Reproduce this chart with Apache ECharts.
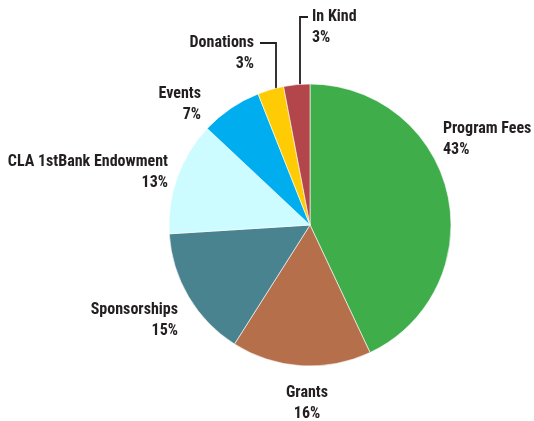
<!DOCTYPE html>
<html><head><meta charset="utf-8">
<script src="https://cdn.jsdelivr.net/npm/echarts@6/dist/echarts.min.js"></script>
<style>html,body{margin:0;padding:0;background:#fff}#c{width:534px;height:421px}</style>
</head><body><div id="c"></div>
<script>
const categories = ['Program Fees','Grants','Sponsorships','CLA 1stBank Endowment','Events','Donations','In Kind'];
const values = [43,16,15,13,7,3,3];
const colors = ['#3fae4a','#b5704b','#4a8390','#ccfcff','#00aeef','#ffcb05','#b3464b'];

// label placement (style only)
const labelPos = [
  {x:443, y:139, align:'left'},
  {x:307, y:403, align:'center'},
  {x:178, y:320, align:'right'},
  {x:168, y:172, align:'right'},
  {x:201, y:104, align:'right'},
  {x:254, y:53, align:'right', line:[[276,104],[276,43],[260,43]]},
  {x:312, y:27, align:'left', line:[[300,96],[300,17],[308,17]]}
];

const chart = echarts.init(document.getElementById('c'), null, {renderer:'canvas'});
chart.setOption({
  animation:false,
  series:[{
    type:'pie',
    center:[310,225],
    radius:141,
    startAngle:90,
    clockwise:true,
    data: categories.map((n,i)=>({name:n, value:values[i], itemStyle:{color:colors[i]}})),
    itemStyle:{borderColor:'#fff', borderWidth:0.6},
    label:{
      show:true,
      overflow:'none',
      width:300,
      formatter: p => p.name + '\n' + Math.round(p.percent) + '%',
      fontFamily:'"Roboto Condensed","DejaVu Sans Condensed",sans-serif',
      fontWeight:'bold',
      fontSize:16,
      lineHeight:21,
      color:'#231f20'
    },
    labelLine:{show:true, lineStyle:{color:'#231f20', width:1.8}, length:10, length2:10},
    labelLayout: function(p){
      const l = labelPos[p.dataIndex];
      const o = {x:l.x, y:l.y, align:l.align, verticalAlign:'middle'};
      o.labelLinePoints = l.line ? l.line : [[0,0],[0,0],[0,0]];
      return o;
    }
  }]
});
</script>
</body></html>
